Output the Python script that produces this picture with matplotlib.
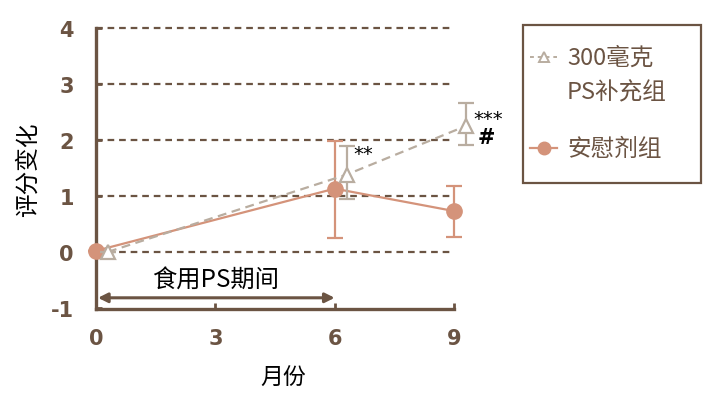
import matplotlib
matplotlib.use("Agg")
import matplotlib.pyplot as plt
from matplotlib.lines import Line2D
from matplotlib.patches import Rectangle

plt.rcParams['font.family'] = ['Noto Sans CJK SC', 'DejaVu Sans']
plt.rcParams['axes.unicode_minus'] = False

months = [0, 3, 6, 9]
ps_x = [0.3, 6.3, 9.3]
ps_y = [0.0, 1.38, 2.25]
ps_err_lo = [0.0, 0.43, 0.34]
ps_err_hi = [0.0, 0.52, 0.41]
pl_x = [0, 6, 9]
pl_y = [0.02, 1.13, 0.73]
pl_err_lo = [0.0, 0.88, 0.47]
pl_err_hi = [0.0, 0.85, 0.44]
yticks = [-1, 0, 1, 2, 3, 4]
ps_label_lines = ["300毫克", "PS补充组"]
pl_label = "安慰剂组"

brown = "#6b5443"
salmon = "#d4937a"
grey = "#b9ada0"

W, H = 720, 406
fig = plt.figure(figsize=(7.2, 4.06), dpi=100)
ax = fig.add_axes([96/W, 1-310/H, (454-96)/W, (310-29)/H])
ax.set_xlim(0, 9)
ax.set_ylim(-1.02, 4)

for yv in [0, 1, 2, 3, 4]:
    ax.plot([0, 9], [yv, yv], ls=(0, (3, 2.2)), color=brown, lw=1.6, zorder=1, clip_on=False)

ax.errorbar(pl_x, pl_y, yerr=[pl_err_lo, pl_err_hi], color=salmon, lw=1.6,
            marker='o', ms=11, mfc=salmon, mec=salmon, capsize=6, capthick=1.6,
            elinewidth=1.6, zorder=4, clip_on=False)
ax.errorbar(ps_x, ps_y, yerr=[ps_err_lo, ps_err_hi], color=grey, lw=1.6, ls=(0, (4, 2.5)),
            marker='^', ms=10, mfc='white', mec=grey, mew=1.6, capsize=6, capthick=1.6,
            elinewidth=1.6, zorder=5, clip_on=False)

ax.text(6.48, 1.75, "**", fontsize=14, color='black', ha='left', va='center', family='DejaVu Sans')
ax.text(9.48, 2.38, "***", fontsize=14, color='black', ha='left', va='center', family='DejaVu Sans')
ax.text(9.6, 2.05, "#", fontsize=15, color='black', ha='left', va='center', fontweight='bold', family='DejaVu Sans')

ax.annotate("", xy=(0.05, -0.82), xytext=(6, -0.82),
            arrowprops=dict(arrowstyle='<|-|>', color=brown, lw=2.2, mutation_scale=14, shrinkA=0, shrinkB=0))
ax.text(3.0, -0.5, "食用PS期间", fontsize=17.5, color='black', ha='center', va='center')

for s in ['top', 'right']:
    ax.spines[s].set_visible(False)
for s in ['left', 'bottom']:
    ax.spines[s].set_color(brown)
    ax.spines[s].set_linewidth(2.4)

ax.set_xticks(months)
ax.set_yticks(yticks)
ax.tick_params(axis='both', direction='in', length=4, width=2, color=brown)
ax.tick_params(axis='y', pad=16)
ax.tick_params(axis='x', pad=14)
for lab in ax.get_xticklabels() + ax.get_yticklabels():
    lab.set_fontweight('bold')
    lab.set_fontsize(15)
    lab.set_color(brown)
    lab.set_family('DejaVu Sans')

ax.set_ylabel("评分变化", fontsize=17, color='black')
ax.set_xlabel("月份", fontsize=16.5, color='black')
ax.yaxis.set_label_coords(-0.19, 0.5)
ax.xaxis.set_label_coords((283-96)/(454-96), -(378-310)/(310-29))
ax.xaxis.label.set_va('center')
ax.yaxis.label.set_va('center')

# legend drawn in figure pixel coordinates
def fx(px):
    return px / W
def fy(py):
    return 1 - py / H

fig.patches.append(Rectangle((fx(523), fy(184)), (701-523)/W, (184-26)/H, transform=fig.transFigure,
                             fill=False, edgecolor=brown, lw=1.6))
fig.lines.append(Line2D([fx(530), fx(557)], [fy(58), fy(58)], transform=fig.transFigure,
                        color=grey, ls=(0, (2, 2)), lw=1.4))
fig.lines.append(Line2D([fx(543.5)], [fy(58)], transform=fig.transFigure, marker='^', ms=7,
                        mfc='white', mec=grey, mew=1.4, ls='none'))
fig.lines.append(Line2D([fx(530), fx(557)], [fy(149), fy(149)], transform=fig.transFigure,
                        color=salmon, lw=1.6))
fig.lines.append(Line2D([fx(543.5)], [fy(149)], transform=fig.transFigure, marker='o', ms=9,
                        mfc=salmon, mec=salmon, ls='none'))
fig.text(fx(567), fy(58), ps_label_lines[0], fontsize=17, color=brown, ha='left', va='center')
fig.text(fx(567), fy(93), ps_label_lines[1], fontsize=17, color=brown, ha='left', va='center')
fig.text(fx(567), fy(149), pl_label, fontsize=17, color=brown, ha='left', va='center')

fig.savefig("out.png", dpi=100)
